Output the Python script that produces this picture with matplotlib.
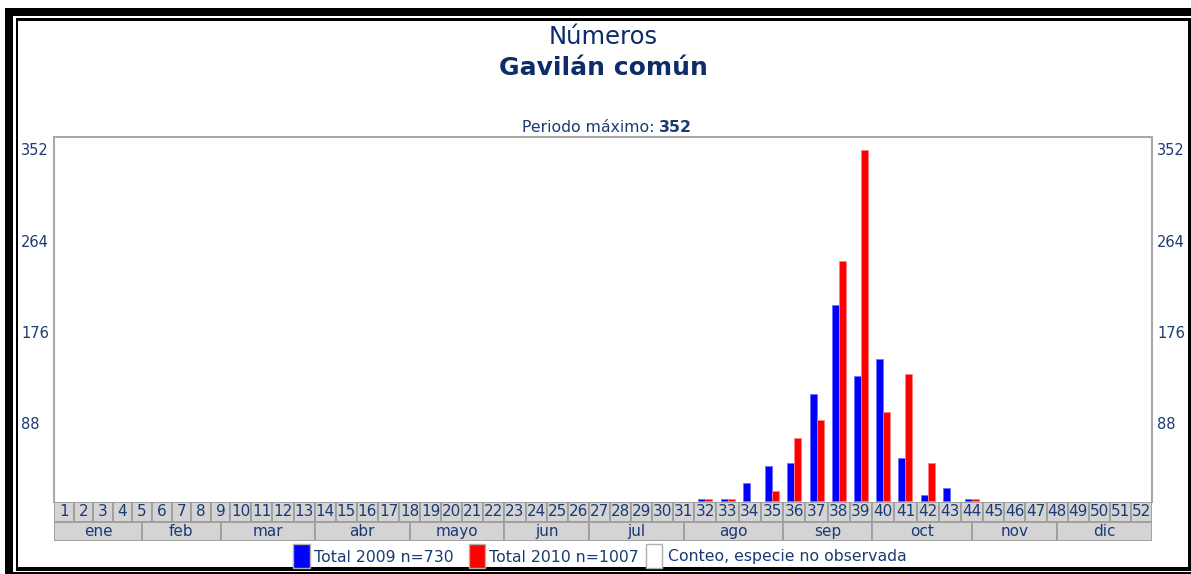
import numpy as np
import matplotlib
matplotlib.use("Agg")
import matplotlib.pyplot as plt
from matplotlib.patches import Rectangle

# ---------------- data ----------------
weeks = list(range(1, 53))
months = ["ene", "feb", "mar", "abr", "mayo", "jun", "jul", "ago", "sep", "oct", "nov", "dic"]
total_2009 = [0] * 31 + [2, 2, 18, 35, 38, 107, 197, 125, 142, 43, 6, 13, 2] + [0] * 8
total_2010 = [0] * 31 + [2, 2, 0, 10, 63, 81, 241, 352, 89, 127, 38, 0, 2] + [0] * 8
series_labels = ["Total 2009", "Total 2010"]
nodata_label = "Conteo, especie no observada"
title1 = "Números"
title2 = "Gavilán común"

# ---------------- layout ----------------
W, H = 1191, 574
month_edges_w = [0, 4.5, 8.5, 13, 17.5, 22, 26, 30.5, 35, 39, 43.5, 47.5, 52]
TXT = "#1b3a73"
GRID = "#9e9e9e"
CELL = "#d4d4d4"
BLUE = "#0000ff"
RED = "#ff0000"

cell_w = []
for w, a, b in zip(weeks, total_2009, total_2010):
    if a or b:
        cell_w.append(22.25)
    elif w < 10:
        cell_w.append(19.6)
    else:
        cell_w.append(21.1)
edges = np.concatenate([[0], np.cumsum(cell_w)])
centers = (edges[:-1] + edges[1:]) / 2
xmax = edges[-1]

fig = plt.figure(figsize=(W / 100, H / 100), dpi=100)
fig.patch.set_facecolor("white")


def px_rect(x0, y0, x1, y1, color, z):
    fig.patches.append(Rectangle((x0 / W, 1 - y1 / H), (x1 - x0) / W, (y1 - y0) / H,
                                 transform=fig.transFigure, facecolor=color,
                                 edgecolor="none", zorder=z))


# double black frame
px_rect(5, 8, 1200, 600, "black", -10)
px_rect(13.3, 16, 1200, 571.7, "white", -9)
px_rect(15.7, 18, 1190.7, 570.7, "black", -8)
px_rect(18.3, 20.7, 1187.7, 567.3, "white", -7)

PL, PR, PT, PB = 54, 1152, 137, 502
ax = fig.add_axes([PL / W, 1 - PB / H, (PR - PL) / W, (PB - PT) / H])
ax.set_facecolor("white")
bw = 7.0
ax.bar(centers - bw / 2, total_2009, width=bw, color=BLUE,
       edgecolor="#7070ff", linewidth=[0.6 if v else 0 for v in total_2009])
ax.bar(centers + bw / 2, total_2010, width=bw, color=RED,
       edgecolor="#ff8080", linewidth=[0.6 if v else 0 for v in total_2010])
ax.set_xlim(0, xmax)
ax.set_ylim(-1, 365)
ax.set_xticks([])
ax.set_yticks([])
for s in ["left", "right", "top"]:
    ax.spines[s].set_color("#a8a8a8")
    ax.spines[s].set_linewidth(1.5)
ax.spines["bottom"].set_visible(False)

# y labels (quarters of the maximum)
ymax = max(max(total_2009), max(total_2010))
row_h = (PB - PT) / 4
for i in range(4):
    val = int(round(ymax * (4 - i) / 4))
    ypx = PT + 14 + i * row_h
    fig.text(21 / W, 1 - ypx / H, str(val), ha="left", va="center", fontsize=10.5, color=TXT)
    fig.text(1157 / W, 1 - ypx / H, str(val), ha="left", va="center", fontsize=10.5, color=TXT)

# week / month table
TB = 541
tab = fig.add_axes([PL / W, 1 - TB / H, (PR - PL) / W, (TB - PB) / H])
tab.set_xlim(0, xmax)
tab.set_ylim(0, 2)
tab.axis("off")
for w, x0, x1 in zip(weeks, edges[:-1], edges[1:]):
    tab.add_patch(Rectangle((x0, 1), x1 - x0, 1, facecolor=CELL, edgecolor=GRID, linewidth=1.3))
    tab.text((x0 + x1) / 2, 1.5, str(w), ha="center", va="center", fontsize=11, color=TXT)
mx = np.interp(month_edges_w, np.arange(53), edges)
for m, x0, x1 in zip(months, mx[:-1], mx[1:]):
    tab.add_patch(Rectangle((x0, 0), x1 - x0, 1, facecolor=CELL, edgecolor=GRID, linewidth=1.3))
    tab.text((x0 + x1) / 2, 0.47, m, ha="center", va="center", fontsize=11, color=TXT)

# titles
cx = (PL + PR) / 2
fig.text(cx / W, 1 - 37 / H, title1, ha="center", va="center", fontsize=17.5, color="#0d2c6a")
fig.text(cx / W, 1 - 68 / H, title2, ha="center", va="center", fontsize=18, fontweight="bold", color="#0d2c6a")
fig.text(654 / W, 1 - 128 / H, "Periodo máximo:", ha="right", va="center", fontsize=11.3, color=TXT)
fig.text(659 / W, 1 - 128 / H, str(ymax), ha="left", va="center", fontsize=11.3, fontweight="bold", color=TXT)

# legend
n09, n10 = sum(total_2009), sum(total_2010)
leg = [(293.3, 310, BLUE, f"{series_labels[0]} n={n09}", 314),
       (469.3, 485, RED, f"{series_labels[1]} n={n10}", 489),
       (646, 661.7, "white", nodata_label, 667.7)]
for x0, x1, c, lab, tx in leg:
    fig.patches.append(Rectangle((x0 / W, 1 - 568 / H), (x1 - x0) / W, 24 / H,
                                 transform=fig.transFigure, facecolor=c,
                                 edgecolor="#b0b0b0", linewidth=1, zorder=5))
    fig.text(tx / W, 1 - 557 / H, lab, ha="left", va="center", fontsize=11.3, color=TXT)

fig.savefig("out.png", dpi=100, facecolor="white")
